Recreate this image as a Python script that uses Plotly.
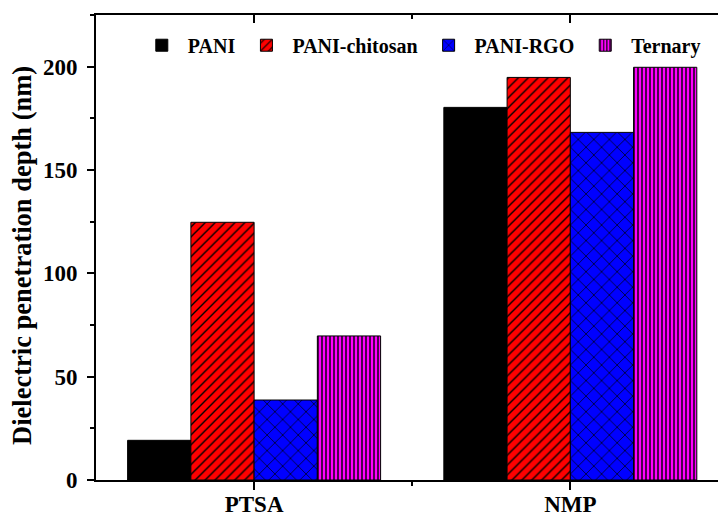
import plotly.graph_objects as go

categories = ["PTSA", "NMP"]
series_names = ["PANI", "PANI-chitosan", "PANI-RGO", "Ternary"]
pani = [19.2, 180.3]
pani_chitosan = [124.7, 194.8]
pani_rgo = [38.7, 168.2]
ternary = [69.7, 199.7]
y_title = "Dielectric penetration depth (nm)"

values = [pani, pani_chitosan, pani_rgo, ternary]
colors = ["#000000", "#FF0000", "#0000FF", "#FF00FF"]
patterns = [
    dict(shape=""),
    dict(shape="/", fgcolor="black", bgcolor="#FF0000", size=7, solidity=0.2, fillmode="replace"),
    dict(shape="x", fgcolor="black", bgcolor="#0000FF", size=11, solidity=0.12, fillmode="replace"),
    dict(shape="|", fgcolor="black", bgcolor="#FF00FF", size=4, solidity=0.35, fillmode="replace"),
]

xpos = list(range(len(categories)))
FONT = "Liberation Serif"

fig = go.Figure()
for name, vals, col, pat in zip(series_names, values, colors, patterns):
    fig.add_trace(go.Bar(
        x=xpos, y=vals, name=name,
        marker=dict(color=col, pattern=pat, line=dict(color="black", width=1)),
    ))
# empty helper trace so the top (inside-tick) axis is drawn
fig.add_trace(go.Bar(x=[], y=[], xaxis="x2", showlegend=False, hoverinfo="skip"))

fig.add_annotation(
    text=y_title, textangle=-90, xref="paper", yref="paper",
    x=-0.119, y=0.484, xanchor="center", yanchor="middle", showarrow=False,
    font=dict(family=FONT, size=26.5, color="black", weight="bold"),
)

fig.update_layout(
    width=718, height=516,
    margin=dict(l=96, r=0, t=15, b=36),
    paper_bgcolor="white", plot_bgcolor="white",
    barmode="group", bargap=0.2, bargroupgap=0,
    font=dict(family=FONT, color="black"),
    showlegend=True,
    legend=dict(
        orientation="h", x=0.064, y=0.935, xanchor="left", yanchor="middle",
        font=dict(family=FONT, size=20, color="black", weight="bold"),
        bgcolor="rgba(0,0,0,0)", itemwidth=42, traceorder="normal",
    ),
    xaxis=dict(
        range=[-0.5, 1.467], tickvals=xpos, ticktext=categories, automargin=False,
        showline=True, linecolor="black", linewidth=2, mirror=True,
        ticks="outside", ticklen=8, tickwidth=1.5, tickcolor="black",
        minor=dict(tickvals=[0.5], ticks="outside", ticklen=4, tickwidth=1.5, tickcolor="black"),
        tickfont=dict(family=FONT, size=23, color="black", weight="bold"),
        ticklabelstandoff=-6,
        showgrid=False, zeroline=False,
    ),
    xaxis2=dict(
        range=[-0.5, 1.467], tickvals=xpos, overlaying="x", side="top", anchor="y",
        showticklabels=False, showline=False, automargin=False,
        ticks="inside", ticklen=8, tickwidth=1.5, tickcolor="black",
        minor=dict(tickvals=[0.5], ticks="inside", ticklen=4, tickwidth=1.5, tickcolor="black"),
        showgrid=False, zeroline=False,
    ),
    yaxis=dict(
        range=[0, 225], tickvals=[0, 50, 100, 150, 200], automargin=False,
        showline=True, linecolor="black", linewidth=2, mirror=True,
        ticks="outside", ticklen=7, tickwidth=1.5, tickcolor="black",
        minor=dict(dtick=25, ticks="outside", ticklen=4, tickwidth=1.5, tickcolor="black", showgrid=False),
        tickfont=dict(family=FONT, size=23, color="black", weight="bold"),
        ticklabelstandoff=5,
        showgrid=False, zeroline=False,
    ),
)

fig.write_html(
    "out.html",
    config={"displayModeBar": False},
    post_script="document.body.style.margin='0';document.body.style.overflow='hidden';",
)
